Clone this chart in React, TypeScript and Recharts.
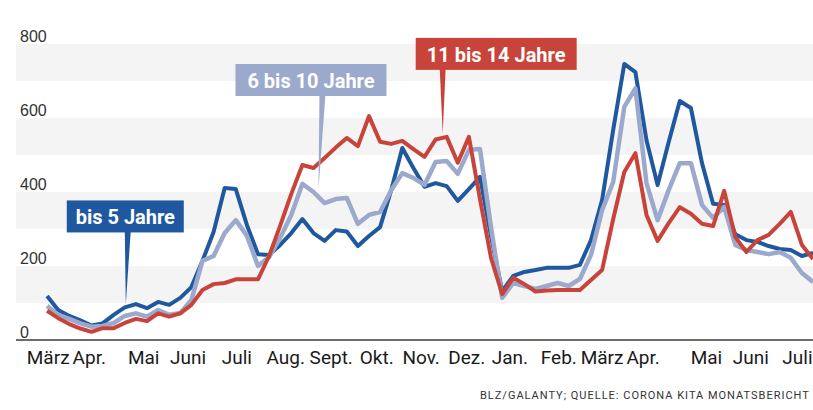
import { LineChart, Line, XAxis, YAxis, ReferenceArea, ReferenceDot } from 'recharts';

// weekly values, March 2020 – July 2021
const bis5 = [
  119, 81, 65, 53, 39, 45, 68, 88, 97, 86,
  103, 95, 114, 143, 214, 292, 411, 408, 311, 232,
  230, 257, 289, 327, 289, 268, 297, 293, 254, 281,
  305, 405, 519, 465, 414, 424, 416, 376, 408, 441,
  280, 132, 173, 184, 189, 195, 195, 195, 203, 270,
  378, 568, 746, 724, 540, 419, 535, 646, 627, 478,
  368, 365, 286, 270, 265, 254, 246, 243, 227, 235,
];
const bis10 = [
  92, 68, 57, 45, 36, 38, 46, 65, 72, 63,
  81, 68, 73, 108, 214, 227, 289, 324, 282, 200,
  224, 276, 338, 422, 400, 370, 381, 384, 314, 338,
  346, 405, 451, 438, 419, 481, 484, 449, 514, 516,
  303, 114, 154, 146, 138, 146, 154, 146, 165, 230,
  351, 427, 630, 680, 424, 324, 405, 478, 478, 365,
  330, 360, 257, 243, 238, 232, 238, 222, 181, 157,
];
const bis14 = [
  79, 59, 43, 31, 22, 32, 32, 46, 57, 51,
  72, 63, 72, 95, 135, 151, 154, 164, 164, 164,
  227, 309, 395, 473, 465, 492, 520, 546, 524, 605,
  536, 530, 538, 516, 495, 542, 549, 479, 549, 381,
  221, 124, 168, 151, 131, 134, 135, 135, 135, 162,
  189, 327, 454, 505, 338, 268, 316, 359, 341, 314,
  308, 403, 278, 238, 270, 284, 314, 346, 257, 219,
];

const monthLabels = ['März', 'Apr.', 'Mai', 'Juni', 'Juli', 'Aug.', 'Sept.', 'Okt.', 'Nov.', 'Dez.', 'Jan.', 'Feb.', 'März', 'Apr.', 'Mai', 'Juni', 'Juli'];
// label positions in weeks
const monthTicks = [0.1, 3.8, 8.7, 12.7, 17.1, 21.5, 25.6, 29.7, 33.7, 37.8, 41.7, 46.1, 50.0, 53.7, 59.4, 63.4, 67.6];
const yTicks = [0, 200, 400, 600, 800];

const BLUE = '#20589f';
const LIGHT = '#9ba9cd';
const RED = '#c8443b';

const data = bis5.map((v, i) => ({ week: i, bis5: v, bis10: bis10[i], bis14: bis14[i] }));

function XTick({ x, y, payload }: any) {
  const i = monthTicks.indexOf(payload.value);
  return (
    <text x={x} y={y + 24} textAnchor="middle" fill="#1a1a1a" fontSize={19} fontFamily="Roboto, sans-serif">
      {monthLabels[i]}
    </text>
  );
}

function YTick({ y, payload }: any) {
  return (
    <text x={20} y={y - 2} fill="#333" fontSize={16} fontFamily="'Liberation Sans', Arial, sans-serif">
      {payload.value}
    </text>
  );
}

// box with a pointed stem down to the line
function callout(text: string, color: string, boxLeft: number, boxTop: number, boxW: number, stemDx: number, tipDx: number) {
  return (p: any) => {
    const { cx, cy } = p;
    const bx = cx + boxLeft;
    const by = cy + boxTop;
    const sx = cx + stemDx;
    return (
      <g>
        <path d={`M${sx - 3},${by + 30} L${sx + 3},${by + 30} L${cx + tipDx},${cy - 3} Z`} fill={color} />
        <rect x={bx} y={by} width={boxW} height={32} fill={color} />
        <text x={bx + boxW / 2} y={by + 24} textAnchor="middle" fill="#fff" fontSize={20} fontWeight="bold" fontFamily="Roboto, sans-serif">
          {text}
        </text>
      </g>
    );
  };
}

export default function App() {
  return (
    <div style={{ position: 'absolute', left: 0, top: 0, width: 813, height: 410, overflow: 'hidden', background: '#fff' }}>
      <LineChart width={813} height={410} data={data} margin={{ top: 44, right: 0, left: 0, bottom: 0 }}>
        {yTicks.slice(0, -1).map((t) => (
          <ReferenceArea key={t} y1={t + 100} y2={t + 200} fill="#f4f4f4" fillOpacity={1} stroke="none" ifOverflow="visible" />
        ))}
        <XAxis
          type="number"
          dataKey="week"
          domain={[-2.8, 69]}
          ticks={monthTicks}
          interval={0}
          height={70}
          tickSize={0}
          tickMargin={0}
          tickLine={false}
          axisLine={{ stroke: '#6e6a66', strokeWidth: 2 }}
          tick={<XTick />}
        />
        <YAxis width={16} domain={[0, 800]} ticks={yTicks} interval={0} axisLine={false} tickLine={false} tick={<YTick />} />
        <Line type="linear" dataKey="bis5" stroke={BLUE} strokeWidth={4} dot={false} strokeLinejoin="round" isAnimationActive={false} />
        <Line type="linear" dataKey="bis10" stroke={LIGHT} strokeWidth={4.5} dot={false} strokeLinejoin="round" isAnimationActive={false} />
        <Line type="linear" dataKey="bis14" stroke={RED} strokeWidth={4} dot={false} strokeLinejoin="round" isAnimationActive={false} />
        <ReferenceDot x={7} y={bis5[7]} r={0} shape={callout('bis 5 Jahre', BLUE, -58, -107, 117, 3, 1)} />
        <ReferenceDot x={24} y={bis10[24]} r={0} shape={callout('6 bis 10 Jahre', LIGHT, -78, -128, 151, 9, 5)} />
        <ReferenceDot x={36} y={bis14[36]} r={0} shape={callout('11 bis 14 Jahre', RED, -31, -99, 161, -4, -4)} />
      </LineChart>
      <div
        style={{
          position: 'absolute',
          left: 480,
          top: 389,
          whiteSpace: 'nowrap',
          fontFamily: 'Roboto, sans-serif',
          fontSize: 11,
          letterSpacing: 1,
          color: '#333',
        }}
      >
        BLZ/GALANTY; QUELLE: CORONA KITA MONATSBERICHT
      </div>
    </div>
  );
}
